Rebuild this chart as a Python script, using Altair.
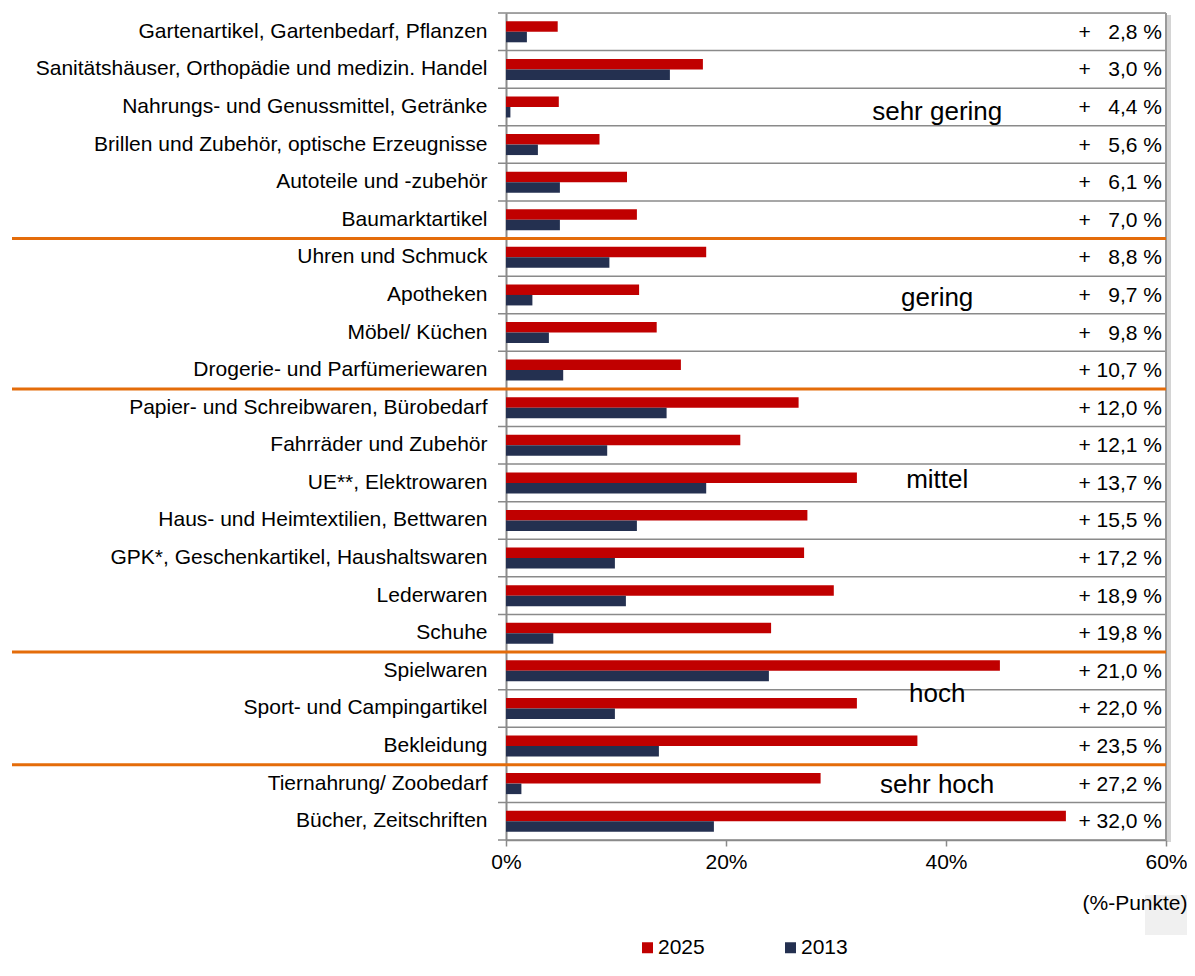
import altair as alt
import pandas as pd

categories = [
    "Gartenartikel, Gartenbedarf, Pflanzen\u00a0",
    "Sanitätshäuser, Orthopädie und medizin. Handel",
    "Nahrungs- und Genussmittel, Getränke",
    "Brillen und Zubehör, optische Erzeugnisse",
    "Autoteile und -zubehör",
    "Baumarktartikel",
    "Uhren und Schmuck",
    "Apotheken",
    "Möbel/ Küchen",
    "Drogerie- und Parfümeriewaren",
    "Papier- und Schreibwaren, Bürobedarf",
    "Fahrräder und Zubehör",
    "UE**, Elektrowaren",
    "Haus- und Heimtextilien, Bettwaren",
    "GPK*, Geschenkartikel, Haushaltswaren",
    "Lederwaren",
    "Schuhe",
    "Spielwaren",
    "Sport- und Campingartikel",
    "Bekleidung",
    "Tiernahrung/ Zoobedarf",
    "Bücher, Zeitschriften",
]
v2025 = [4.7, 17.9, 4.8, 8.5, 11.0, 11.9, 18.2, 12.1, 13.7, 15.9, 26.6,
         21.3, 31.9, 27.4, 27.1, 29.8, 24.1, 44.9, 31.9, 37.4, 28.6, 50.9]
v2013 = [1.9, 14.9, 0.4, 2.9, 4.9, 4.9, 9.4, 2.4, 3.9, 5.2, 14.6,
         9.2, 18.2, 11.9, 9.9, 10.9, 4.3, 23.9, 9.9, 13.9, 1.4, 18.9]
growth = [2.8, 3.0, 4.4, 5.6, 6.1, 7.0, 8.8, 9.7, 9.8, 10.7, 12.0,
          12.1, 13.7, 15.5, 17.2, 18.9, 19.8, 21.0, 22.0, 23.5, 27.2, 32.0]
series = ["2025", "2013"]
series_colors = ["#C00000", "#243050"]
x_ticks = [0, 20, 40, 60]
group_names = ["sehr gering", "gering", "mittel", "hoch", "sehr hoch"]
group_rows = ["Nahrungs- und Genussmittel, Getränke", "Apotheken",
              "UE**, Elektrowaren", "Sport- und Campingartikel",
              "Tiernahrung/ Zoobedarf"]
separator_rows = ["Uhren und Schmuck", "Papier- und Schreibwaren, Bürobedarf",
                  "Spielwaren", "Tiernahrung/ Zoobedarf"]
x_title = "(%-Punkte)"

FONT = "Liberation Sans"
W, H = 660, 827
GRAY = "#8a8a8a"
# vertical nudges of the group labels (styling only)
GROUP_DY = {"sehr gering": 13.5, "gering": 11.5, "mittel": 5.5, "hoch": -6, "sehr hoch": 9.5}

bars_df = pd.DataFrame(
    [{"cat": c, "series": "2025", "value": a} for c, a in zip(categories, v2025)]
    + [{"cat": c, "series": "2013", "value": b} for c, b in zip(categories, v2013)]
)


def fmt(g):
    s = f"{g:.1f}".replace(".", ",")
    pad = "\u00a0" if g >= 10 else "\u00a0\u00a0\u00a0"
    return "+" + pad + s + "\u00a0%"


growth_df = pd.DataFrame({"cat": categories, "label": [fmt(g) for g in growth]})
cats_df = pd.DataFrame({"cat": categories})
last_df = pd.DataFrame({"cat": categories[-1:]})
sep_df = pd.DataFrame({"cat": separator_rows})

yscale = alt.Scale(domain=categories, paddingInner=0, paddingOuter=0)
xscale = alt.Scale(domain=[0, 60], nice=False, zero=True)

yaxis = alt.Axis(title=None, ticks=False, domain=True, domainColor=GRAY,
                 domainWidth=2, labelFontSize=21, labelFont=FONT,
                 labelColor="#000000", labelPadding=19, labelLimit=700,
                 grid=False)

bars = alt.Chart(bars_df).mark_bar().encode(
    x=alt.X("value:Q", scale=xscale,
            axis=alt.Axis(values=x_ticks, labelExpr="datum.value + '%'", grid=False,
                          tickSize=6, tickColor=GRAY, tickWidth=1.5,
                          domainColor=GRAY, domainWidth=1.5,
                          labelFontSize=21, labelFont=FONT, labelColor="#000000",
                          labelFlush=False, labelPadding=5,
                          title=x_title, titleFont=FONT, titleFontSize=21,
                          titleFontWeight="normal", titleColor="#000000",
                          titleAnchor="end", titleAlign="right", titleBaseline="middle",
                          titleX=681, titleY=63, zindex=1)),
    y=alt.Y("cat:N", scale=yscale, axis=yaxis),
    yOffset=alt.YOffset("series:N", sort=series,
                        scale=alt.Scale(domain=series, paddingOuter=0.79, paddingInner=0)),
    color=alt.Color("series:N", sort=series,
                    scale=alt.Scale(domain=series, range=series_colors),
                    legend=alt.Legend(orient="none", legendX=131, legendY=924,
                                      direction="horizontal", title=None,
                                      symbolType="square", symbolSize=121,
                                      symbolStrokeWidth=0, labelFontSize=21,
                                      labelFont=FONT, labelColor="#000000",
                                      labelOffset=0, columnPadding=75, padding=0)),
)

gridlines = alt.Chart(cats_df).mark_rule(color=GRAY, strokeWidth=1.5).encode(
    y=alt.Y("cat:N", scale=yscale, bandPosition=0),
    x=alt.value(-8), x2=alt.value(W),
)
bottom_line = alt.Chart(last_df).mark_rule(color=GRAY, strokeWidth=1.5).encode(
    y=alt.Y("cat:N", scale=yscale, bandPosition=1),
    x=alt.value(-8), x2=alt.value(W),
)
right_shadow = alt.Chart(cats_df).mark_rule(color="#d4d4d4", strokeWidth=4).encode(
    y=alt.value(2), y2=alt.value(H + 2), x=alt.value(W + 2.5),
)
right_border = alt.Chart(cats_df).mark_rule(color="#9a9a9a", strokeWidth=1.5).encode(
    y=alt.value(0), y2=alt.value(H), x=alt.value(W),
)
corner_shade = alt.Chart(cats_df).mark_rect(color="#f0f0f0").encode(
    x=alt.value(639), x2=alt.value(681), y=alt.value(882), y2=alt.value(922),
)

separators = alt.Chart(sep_df).mark_rule(color="#E46C0A", strokeWidth=3).encode(
    y=alt.Y("cat:N", scale=yscale, bandPosition=0),
    x=alt.value(-494), x2=alt.value(W),
)

growth_text = alt.Chart(growth_df).mark_text(
    align="right", baseline="middle", fontSize=21, font=FONT, color="#000000", dx=-4, dy=1
).encode(
    y=alt.Y("cat:N", scale=yscale),
    x=alt.value(W),
    text="label:N",
)

group_layers = []
for name, row in zip(group_names, group_rows):
    gdf = pd.DataFrame({"cat": [row], "name": [name]})
    group_layers.append(
        alt.Chart(gdf).mark_text(
            align="center", baseline="alphabetic", fontSize=26, font=FONT,
            color="#000000", dy=GROUP_DY[name]
        ).encode(
            y=alt.Y("cat:N", scale=yscale),
            x=alt.datum(39.2, scale=xscale),
            text="name:N",
        )
    )

chart = alt.layer(
    bars, corner_shade, gridlines, bottom_line, right_shadow, right_border,
    separators, growth_text, *group_layers,
).properties(
    width=W, height=H,
    autosize=alt.AutoSizeParams(type="none"),
    padding={"left": 498, "top": 5, "right": 21, "bottom": 128},
    background="#ffffff",
).configure_view(stroke=None).configure(font=FONT)

chart.save("out.html", embed_options={"renderer": "svg", "actions": False})
